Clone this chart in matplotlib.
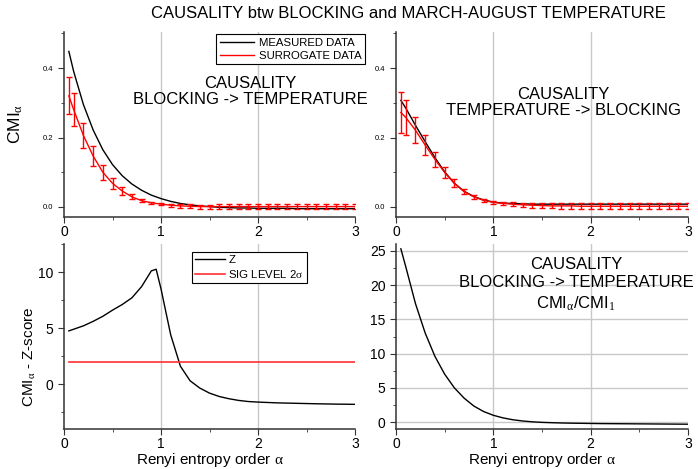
import numpy as np
import matplotlib
matplotlib.use("Agg")
import matplotlib.pyplot as plt
from matplotlib.ticker import MultipleLocator, FormatStrFormatter

plt.rcParams['font.family'] = ['Liberation Sans', 'DejaVu Sans']
plt.rcParams['mathtext.fontset'] = 'custom'
plt.rcParams['mathtext.rm'] = 'Liberation Serif'
plt.rcParams['mathtext.it'] = 'Liberation Serif:italic'

# renyi order grid (error bars sit on these points)
alpha = [0.05, 0.1, 0.2, 0.3, 0.4, 0.5, 0.6, 0.7, 0.8, 0.9, 1.0,
         1.1, 1.2, 1.3, 1.4, 1.5, 1.6, 1.7, 1.8, 1.9, 2.0,
         2.1, 2.2, 2.3, 2.4, 2.5, 2.6, 2.7, 2.8, 2.9, 3.0]

# blocking -> temperature
meas_bt = [0.448, 0.39, 0.295, 0.222, 0.165, 0.122, 0.09, 0.066, 0.048, 0.034, 0.024,
           0.016, 0.010, 0.006, 0.003, 0.001, -0.001, -0.002, -0.003, -0.003, -0.004,
           -0.004, -0.004, -0.004, -0.005, -0.005, -0.005, -0.005, -0.005, -0.005, -0.005]
surr_bt = [0.32, 0.28, 0.206, 0.147, 0.10, 0.068, 0.046, 0.029, 0.018, 0.012, 0.008,
           0.005, 0.003, 0.002, 0.001, 0.001, 0.001, 0.001, 0.001, 0.001, 0.001,
           0.001, 0.001, 0.001, 0.001, 0.001, 0.001, 0.001, 0.001, 0.001, 0.001]
err_bt = [0.053, 0.048, 0.037, 0.028, 0.021, 0.015, 0.011, 0.007, 0.004, 0.003, 0.003,
          0.004, 0.005, 0.006, 0.006, 0.006, 0.007, 0.007, 0.007, 0.007, 0.007,
          0.007, 0.007, 0.008, 0.008, 0.008, 0.008, 0.008, 0.008, 0.008, 0.008]

# temperature -> blocking
meas_tb = [0.307, 0.285, 0.235, 0.188, 0.142, 0.101, 0.068, 0.045, 0.030, 0.020, 0.014,
           0.011, 0.010, 0.009, 0.008, 0.008, 0.008, 0.008, 0.008, 0.008, 0.008,
           0.008, 0.008, 0.008, 0.008, 0.008, 0.008, 0.008, 0.008, 0.008, 0.008]
surr_tb = [0.272, 0.258, 0.221, 0.178, 0.137, 0.099, 0.068, 0.044, 0.029, 0.019, 0.013,
           0.010, 0.008, 0.006, 0.005, 0.004, 0.003, 0.003, 0.003, 0.002, 0.002,
           0.002, 0.002, 0.002, 0.002, 0.002, 0.002, 0.002, 0.002, 0.002, 0.002]
err_tb = [0.058, 0.051, 0.038, 0.029, 0.021, 0.016, 0.012, 0.008, 0.005, 0.004, 0.004,
          0.005, 0.006, 0.006, 0.007, 0.007, 0.007, 0.008, 0.008, 0.008, 0.008,
          0.008, 0.008, 0.008, 0.008, 0.008, 0.008, 0.008, 0.008, 0.008, 0.008]

# z-score
alpha_z = [0.05, 0.1, 0.2, 0.3, 0.4, 0.5, 0.6, 0.7, 0.8, 0.9, 0.95, 1.0,
           1.1, 1.2, 1.3, 1.4, 1.5, 1.6, 1.7, 1.8, 1.9, 2.0,
           2.2, 2.4, 2.6, 2.8, 3.0]
zscore = [4.75, 4.9, 5.2, 5.6, 6.05, 6.6, 7.1, 7.7, 8.7, 10.1, 10.25, 8.5,
          4.4, 1.6, 0.3, -0.35, -0.8, -1.1, -1.3, -1.45, -1.55, -1.6,
          -1.67, -1.71, -1.75, -1.78, -1.8]
sig_level = 2.0

# ratio CMI_alpha / CMI_1
ratio = [25.3, 22.7, 17.3, 13.0, 9.6, 7.0, 5.0, 3.5, 2.35, 1.55, 1.0,
         0.62, 0.35, 0.17, 0.05, -0.03, -0.08, -0.12, -0.15, -0.17, -0.19,
         -0.21, -0.22, -0.23, -0.24, -0.25, -0.26, -0.27, -0.28, -0.29, -0.3]

W, H = 698, 469
fig = plt.figure(figsize=(W / 100, H / 100), dpi=100)
A = r'$\mathrm{α}$'
CMI_A = r'CMI$_\mathrm{α}$'


def make_ax(x0, y0, x1, y1):
    ax = fig.add_axes([x0 / W, 1 - y1 / H, (x1 - x0) / W, (y1 - y0) / H])
    for s in ['top', 'right']:
        ax.spines[s].set_visible(False)
    for s in ['left', 'bottom']:
        ax.spines[s].set_linewidth(1.1)
        ax.spines[s].set_color('#333333')
    ax.set_xlim(0, 3)
    ax.xaxis.set_major_locator(MultipleLocator(1))
    ax.xaxis.set_minor_locator(MultipleLocator(0.5))
    ax.tick_params(which='both', direction='out', colors='#333333')
    ax.tick_params(which='major', length=4, labelsize=10, labelcolor='black')
    ax.tick_params(axis='x', which='major', pad=2)
    ax.tick_params(which='minor', length=2.5)
    for xv in [1, 2]:
        ax.axvline(xv, color='#c8c8c8', lw=1, zorder=0)
    return ax


ax1 = make_ax(64, 32, 355, 217)
ax2 = make_ax(396, 32, 688, 217)
ax3 = make_ax(64, 244, 355, 429)
ax4 = make_ax(396, 244, 688, 429)

for ax, meas, surr, err in [(ax1, meas_bt, surr_bt, err_bt), (ax2, meas_tb, surr_tb, err_tb)]:
    ax.set_ylim(-0.029, 0.504)
    ax.yaxis.set_major_locator(MultipleLocator(0.2))
    ax.yaxis.set_minor_locator(MultipleLocator(0.1))
    ax.tick_params(axis='y', which='major', labelsize=5.5)
    ax.yaxis.set_major_formatter(FormatStrFormatter('%.1f'))
    ax.plot(alpha, meas, color='black', lw=1, label='MEASURED DATA')
    ax.plot(alpha, surr, color='red', lw=1, label='SURROGATE DATA')
    ax.errorbar(alpha, surr, yerr=err, fmt='none', ecolor='red', elinewidth=1,
                capsize=2.2, capthick=1)

leg = ax1.legend(loc='upper right', bbox_to_anchor=(1.045, 1.005), fontsize=8.2,
                 frameon=True, fancybox=False, edgecolor='black', handlelength=3.0,
                 borderpad=0.3, labelspacing=0.25, handletextpad=0.4,
                 borderaxespad=0.3, framealpha=1)
leg.get_frame().set_linewidth(0.8)

ax1.text((250 - 64) / 291, 0.68, 'CAUSALITY\nBLOCKING -> TEMPERATURE', transform=ax1.transAxes,
         ha='center', va='center', fontsize=12, linespacing=1.1)
ax2.text((563 - 396) / 292, 0.62, 'CAUSALITY\nTEMPERATURE -> BLOCKING', transform=ax2.transAxes,
         ha='center', va='center', fontsize=12, linespacing=1.1)
fig.text(16 / W, 1 - 124 / H, CMI_A, rotation=90, ha='center', va='center',
         fontsize=12.5)

# z-score panel
ax3.set_ylim(-4, 12.5)
ax3.yaxis.set_major_locator(MultipleLocator(5))
ax3.yaxis.set_minor_locator(MultipleLocator(2.5))
ax3.tick_params(axis='y', which='major', labelsize=10)
ax3.plot(alpha_z, zscore, color='black', lw=1, label='Z')
ax3.plot([alpha[0], alpha[-1]], [sig_level, sig_level], color='#ff3030', lw=1.2,
         label=r'SIG LEVEL 2$\mathrm{σ}$')
leg3 = ax3.legend(loc='upper left', bbox_to_anchor=(0.42, 0.99), fontsize=8.2,
                  frameon=True, fancybox=False, edgecolor='black', handlelength=2.6,
                  borderpad=0.3, labelspacing=0.25, handletextpad=0.3, framealpha=1)
leg3.get_frame().set_linewidth(0.8)
fig.text(30 / W, 1 - 357 / H, CMI_A + ' - Z-score', rotation=90, ha='center',
         va='center', fontsize=11)
ax3.set_xlabel('Renyi entropy order ' + A, fontsize=11, labelpad=0)

# ratio panel
ax4.set_ylim(-1, 26)
ax4.yaxis.set_major_locator(MultipleLocator(5))
ax4.yaxis.set_minor_locator(MultipleLocator(2.5))
ax4.tick_params(axis='y', which='major', labelsize=10)
for yv in range(0, 26, 5):
    ax4.axhline(yv, color='#c8c8c8', lw=1, zorder=0)
ax4.plot(alpha, ratio, color='black', lw=1)
ax4.text((576 - 396) / 292, 0.78, 'CAUSALITY\nBLOCKING -> TEMPERATURE\n' + CMI_A + r'/CMI$_\mathrm{1}$',
         transform=ax4.transAxes, ha='center', va='center', fontsize=12, linespacing=1.3)
ax4.set_xlabel('Renyi entropy order ' + A, fontsize=11, labelpad=0)

fig.text(408 / W, 1 - 14 / H, 'CAUSALITY btw BLOCKING and MARCH-AUGUST TEMPERATURE',
         ha='center', va='center', fontsize=12)

fig.savefig('out.png', dpi=100)
